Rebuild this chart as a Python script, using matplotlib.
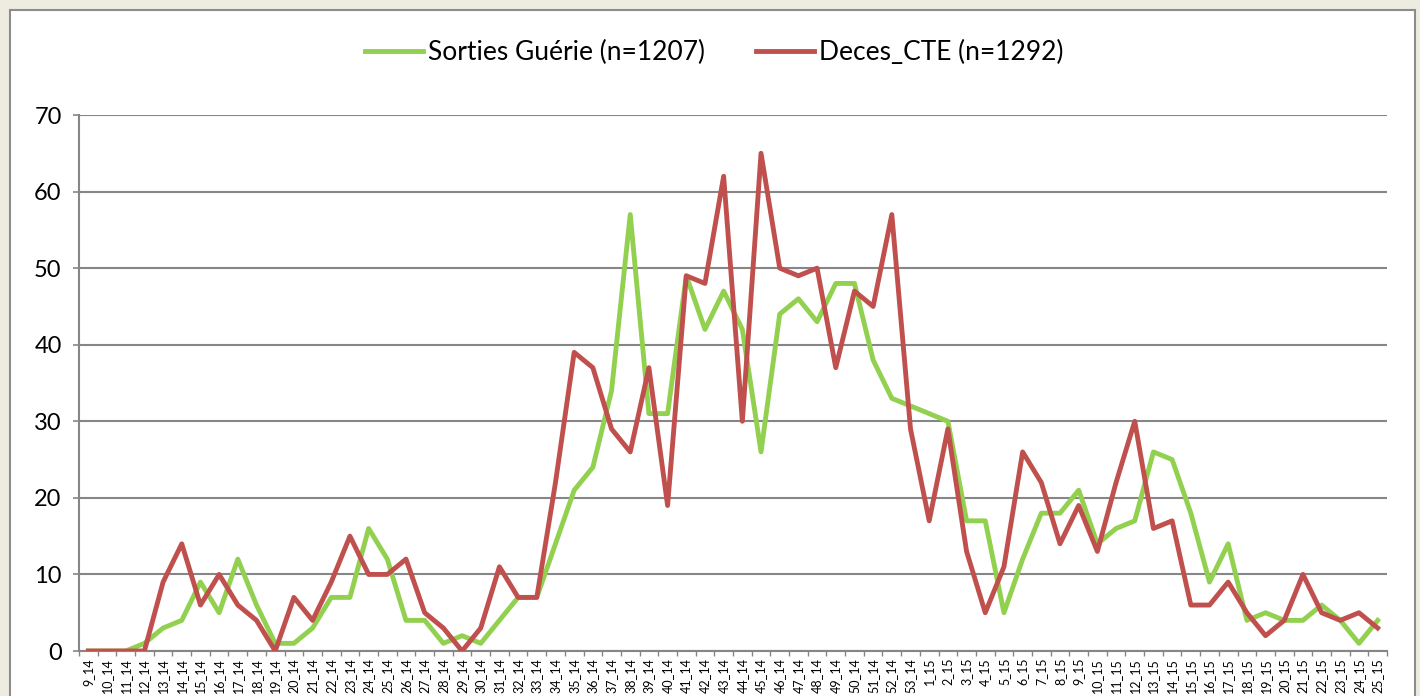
import numpy as np
import matplotlib.pyplot as plt
from matplotlib.patches import Rectangle

plt.rcParams['font.family'] = ['Lato', 'DejaVu Sans']

# week labels
weeks = [f'{w}_14' for w in range(9, 54)] + [f'{w}_15' for w in range(1, 26)]

gueris = [0, 0, 0, 1, 3, 4, 9, 5, 12, 6, 1, 1, 3, 7, 7, 16, 12, 4, 4, 1, 2, 1, 4, 7, 7,
          14, 21, 24, 34, 57, 31, 31, 49, 42, 47, 42, 26, 44, 46, 43, 48, 48, 38, 33, 32,
          31, 30, 17, 17, 5, 12, 18, 18, 21, 14, 16, 17, 26, 25, 18, 9, 14, 4, 5, 4, 4, 6, 4, 1, 4]
deces = [0, 0, 0, 0, 9, 14, 6, 10, 6, 4, 0, 7, 4, 9, 15, 10, 10, 12, 5, 3, 0, 3, 11, 7, 7,
         22, 39, 37, 29, 26, 37, 19, 49, 48, 62, 30, 65, 50, 49, 50, 37, 47, 45, 57, 29,
         17, 29, 13, 5, 11, 26, 22, 14, 19, 13, 22, 30, 16, 17, 6, 6, 9, 5, 2, 4, 10, 5, 4, 5, 3]

green = '#92D050'
red = '#C0504D'
grid = '#868686'

fig = plt.figure(figsize=(14.2, 6.96), dpi=100)
fig.patch.set_facecolor('#EEECE1')
fig.patches.append(Rectangle((10 / 1420, -0.1), 1405 / 1420, 1 - 10 / 696 + 0.1,
                             transform=fig.transFigure, facecolor='white',
                             edgecolor='#8C8C8C', linewidth=1.5, zorder=-5))

ax = fig.add_axes([79 / 1420, 45 / 696, 1308 / 1420, 536 / 696])
ax.set_facecolor('none')
x = np.arange(len(weeks))
ax.plot(x, gueris, color=green, lw=3.5, solid_joinstyle='round', label='Sorties Guérie (n=1207)', zorder=3)
ax.plot(x, deces, color=red, lw=3.5, solid_joinstyle='round', label='Deces_CTE (n=1292)', zorder=4)

ax.set_xlim(-0.5, len(weeks) - 0.5)
ax.set_ylim(0, 70)
ax.set_yticks(range(0, 71, 10))
ax.tick_params(axis='y', labelsize=17, length=4.5, width=1.2, color=grid, pad=8)
ax.yaxis.grid(True, color=grid, lw=1.5)
ax.set_axisbelow(True)

ax.set_xticks(x)
ax.set_xticklabels(weeks, rotation=90, fontsize=9)
ax.set_xticks(np.arange(-0.5, len(weeks), 1), minor=True)
ax.tick_params(axis='x', which='major', length=0, pad=5)
ax.tick_params(axis='x', which='minor', length=3.6, width=1, color=grid)

for s in ['top', 'right']:
    ax.spines[s].set_visible(False)
for s in ['left', 'bottom']:
    ax.spines[s].set_color(grid)
    ax.spines[s].set_linewidth(1.5)

fig.legend(loc='center', bbox_to_anchor=(0.503, 0.925), ncol=2, frameon=False,
           fontsize=19, handlelength=2.2, handletextpad=0.2, columnspacing=1.9)

fig.savefig('out.png', dpi=100, facecolor=fig.get_facecolor())
